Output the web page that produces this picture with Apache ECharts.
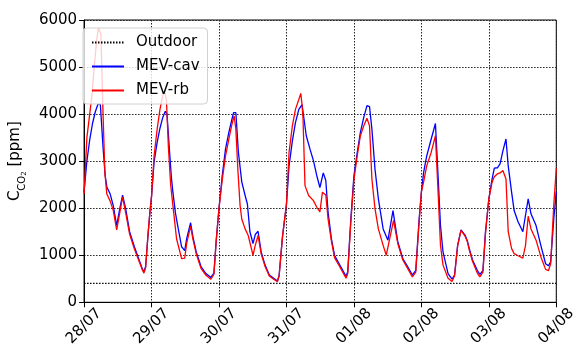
<!DOCTYPE html>
<html>
<head>
<meta charset="utf-8">
<script src="https://cdn.jsdelivr.net/npm/echarts@6/dist/echarts.min.js"></script>
<style>
  html, body { margin: 0; padding: 0; background: #fff; }
  #main { width: 579px; height: 349px; }
</style>
</head>
<body>
<div id="main"></div>
<script>
// x values are hours since 28/07 00:00
var dayLabels = ['28/07', '29/07', '30/07', '31/07', '01/08', '02/08', '03/08', '04/08'];

var outdoorHours = [0, 168];
var outdoorPpm = [400, 400];

var cavHours = [
    0, 1.0, 2.0, 3.0, 4.0, 5.0, 5.8, 6.8, 7.5, 8.1, 9.3, 10.4, 11.6, 12.7, 13.7, 14.8, 16.2, 17.9, 19.7, 20.8, 21.3, 21.9, 22.7, 23.4,
    24, 24.9, 26, 27, 28, 28.9, 29.5, 30.3, 31, 31.6, 32.5, 33.4, 34.7, 35.8, 36.5, 37.9, 38.7, 39.9, 41.6, 43.3, 45.1, 45.4, 46.2, 47,
    48, 49.15, 50.3, 51.5, 52.6, 53.2, 54, 54.9, 56.1, 57.3, 58.1, 59, 60.1, 60.9, 61.9, 63, 64.4, 65.9, 67.7, 68.8, 69.4, 70.6,
    72, 72.93, 74.1, 75.2, 76.4, 77.55, 78.1, 79.05, 80.4, 81.6, 82.8, 83.9, 85.1, 86, 86.8, 88, 89.1, 90.9, 93.2, 93.8, 94.9,
    96, 97.2, 98.3, 99.5, 100.65, 101.55, 102.4, 103.5, 104.7, 106.4, 108.1, 109.9, 111.6, 113.4, 115.1, 116.8, 117.2, 118, 119.2,
    120, 120.8, 121.9, 123.5, 125, 126, 126.8, 127.7, 129.5, 130.9, 131.8, 132.9, 134.1, 135.6, 136.4, 137, 138.2, 139.9, 140.8, 141.3, 141.9, 142.8,
    144, 145.15, 145.95, 147.1, 148, 149, 150.1, 150.9, 152.1, 153, 154.4, 156.1, 157.05, 158, 159, 160.8, 162.5, 164.2, 165.2, 166, 167.1, 168
];
var cavPpm = [
    2350, 3000, 3450, 3800, 4050, 4220, 4200, 3250, 2700, 2450, 2300, 2050, 1630, 1990, 2280, 1990, 1500, 1180, 880, 700, 650, 760, 1400, 1900,
    2250, 2980, 3400, 3700, 3930, 4060, 4000, 3300, 2700, 2340, 1900, 1600, 1180, 1100, 1350, 1690, 1400, 1070, 760, 610, 530, 490, 620, 1300,
    2000, 2690, 3250, 3610, 3890, 4030, 4030, 3190, 2560, 2270, 2090, 1500, 1250, 1440, 1510, 1070, 790, 580, 500, 450, 580, 1400,
    2080, 2900, 3430, 3820, 4100, 4200, 4180, 3540, 3250, 3010, 2690, 2440, 2750, 2590, 1920, 1350, 1000, 800, 550, 650, 1770,
    2690, 3190, 3610, 3930, 4180, 4160, 3680, 2830, 2200, 1560, 1320, 1950, 1290, 930, 760, 580, 550, 680, 1770,
    2340, 2760, 3110, 3470, 3800, 2620, 1630, 1070, 610, 490, 580, 1210, 1540, 1420, 1300, 1150, 900, 680, 590, 560, 680, 1500,
    2200, 2620, 2850, 2860, 2940, 3220, 3470, 2900, 2340, 1950, 1710, 1500, 1850, 2200, 1880, 1630, 1210, 820, 775, 860, 1770, 2350
];

var rbHours = [
    0, 1.0, 2.0, 2.8, 3.6, 4.5, 5.1, 6.0, 6.6, 7.4, 8.1, 9.3, 10.4, 11.6, 12.7, 13.7, 14.8, 16.2, 17.9, 19.7, 20.8, 21.3, 21.9, 22.7, 23.4,
    24, 24.9, 26, 27, 28, 28.6, 29.3, 30, 30.8, 31.6, 32.9, 34.7, 35.8, 36.5, 37.9, 38.7, 39.9, 41.6, 43.3, 45.1, 45.4, 46.2, 47,
    48, 49.15, 50.3, 51.5, 52.6, 53.4, 54, 54.7, 55.5, 56.1, 57.3, 58.4, 60.1, 60.9, 61.9, 63, 64.4, 65.9, 67.7, 68.8, 69.4, 70.6,
    72, 72.93, 74.1, 75.2, 76.4, 77.1, 77.55, 77.9, 78.6, 79.9, 81.6, 82.8, 83.9, 84.8, 86, 86.8, 88, 89.1, 90.9, 93.2, 93.8, 94.9,
    96, 97.2, 98.3, 99.5, 100.65, 101.55, 102.4, 103.5, 104.7, 106.4, 107.5, 108.1, 110.1, 111.6, 113.4, 115.1, 116.8, 117.2, 118, 119.2,
    120, 120.8, 121.9, 123.5, 125, 126, 126.8, 127.7, 129.5, 130.9, 131.8, 132.9, 134.1, 135.6, 136.4, 137, 138.2, 139.9, 140.8, 141.3, 141.9, 142.8,
    144, 145.15, 145.95, 147.1, 148, 149, 150.1, 150.9, 152.1, 153, 154.4, 156.1, 157.05, 158, 159, 160.8, 162.5, 164.2, 165.2, 166, 167.1, 168
];
var rbPpm = [
    2300, 3500, 4000, 4400, 5000, 5580, 5830, 5700, 4300, 2750, 2300, 2150, 1950, 1540, 1900, 2240, 1900, 1450, 1130, 850, 680, 620, 740, 1400, 1900,
    2250, 3110, 3680, 4100, 4400, 4490, 4300, 3300, 2500, 2060, 1350, 930, 940, 1250, 1620, 1350, 1030, 720, 580, 490, 460, 600, 1300,
    2000, 2600, 3100, 3470, 3780, 3960, 3680, 2830, 2060, 1770, 1560, 1420, 1000, 1210, 1420, 1030, 760, 560, 480, 440, 560, 1400,
    2080, 3190, 3750, 4100, 4310, 4440, 4200, 3890, 2480, 2270, 2160, 2020, 1920, 2340, 2280, 1770, 1300, 950, 760, 510, 610, 1700,
    2600, 3120, 3540, 3750, 3910, 3750, 2620, 1990, 1560, 1210, 1000, 970, 1740, 1250, 900, 720, 540, 510, 640, 1700,
    2340, 2560, 2900, 3190, 3540, 2270, 1210, 790, 510, 440, 560, 1200, 1530, 1400, 1280, 1120, 870, 620, 540, 520, 640, 1450,
    2200, 2550, 2670, 2730, 2750, 2800, 2620, 1500, 1140, 1035, 990, 940, 1210, 1830, 1560, 1320, 970, 700, 670, 820, 2060, 2850
];

function pairs(xs, ys) {
    var res = [];
    for (var i = 0; i < xs.length; i++) {
        res.push([xs[i], ys[i]]);
    }
    return res;
}

var font = 'DejaVu Sans';
var myChart = echarts.init(document.getElementById('main'));

var option = {
    animation: false,
    backgroundColor: '#fff',
    textStyle: { fontFamily: font },
    grid: {
        left: 77, right: 18, top: 20, bottom: 45,
        show: true, borderColor: '#000', borderWidth: 1
    },
    legend: {
        orient: 'vertical',
        left: 83, top: 28,
        itemWidth: 32, itemHeight: 14, itemGap: 9,
        padding: [7, 8, 6, 8],
        backgroundColor: 'rgba(255,255,255,0.8)',
        borderColor: '#d0d0d0', borderWidth: 1, borderRadius: 4,
        itemStyle: { opacity: 0, borderWidth: 0 },
        textStyle: { fontFamily: font, fontSize: 15, color: '#000', padding: [0, 0, 0, 7] },
        data: ['Outdoor', 'MEV-cav', 'MEV-rb']
    },
    xAxis: {
        type: 'value',
        min: 0, max: 168, interval: 24,
        axisLine: { show: true, lineStyle: { color: '#000', width: 1 } },
        axisTick: { show: true, length: 5, lineStyle: { color: '#000' } },
        axisLabel: {
            rotate: 45, align: 'center', verticalAlign: 'middle', margin: 24,
            fontFamily: font, fontSize: 15, color: '#000',
            formatter: function (v) { return dayLabels[Math.round(v / 24)]; }
        },
        splitLine: { show: true, lineStyle: { color: '#222', type: [1.5, 1.5], width: 1 } }
    },
    yAxis: {
        type: 'value',
        min: 0, max: 6000, interval: 1000,
        name: '{m|C}{s|CO}{ss|2}{m| [ppm]}',
        nameLocation: 'middle', nameGap: 44,
        nameTextStyle: {
            rich: {
                m: { fontFamily: font, fontSize: 15, lineHeight: 18, color: '#000', verticalAlign: 'top' },
                s: { fontFamily: font, fontSize: 10, lineHeight: 12, color: '#000', verticalAlign: 'top', padding: [9, 0, 0, 0] },
                ss: { fontFamily: font, fontSize: 7, lineHeight: 9, color: '#000', verticalAlign: 'top', padding: [13, 0, 0, 0] }
            }
        },
        axisLine: { show: true, lineStyle: { color: '#000', width: 1 } },
        axisTick: { show: true, length: 5, lineStyle: { color: '#000' } },
        axisLabel: {
            margin: 7, fontFamily: font, fontSize: 15, color: '#000',
            formatter: function (v) { return String(v); }
        },
        splitLine: { show: true, lineStyle: { color: '#222', type: [1.5, 1.5], width: 1 } }
    },
    series: [
        {
            name: 'Outdoor', type: 'line', symbol: 'none',
            data: pairs(outdoorHours, outdoorPpm),
            lineStyle: { color: '#000', width: 1.3, type: [1.5, 1.5] },
            itemStyle: { color: '#000' }
        },
        {
            name: 'MEV-cav', type: 'line', symbol: 'none',
            data: pairs(cavHours, cavPpm),
            lineStyle: { color: '#0000ff', width: 1.3 },
            itemStyle: { color: '#0000ff' }
        },
        {
            name: 'MEV-rb', type: 'line', symbol: 'none',
            data: pairs(rbHours, rbPpm),
            lineStyle: { color: '#ff0000', width: 1.3 },
            itemStyle: { color: '#ff0000' }
        }
    ]
};

myChart.setOption(option);
</script>
</body>
</html>
